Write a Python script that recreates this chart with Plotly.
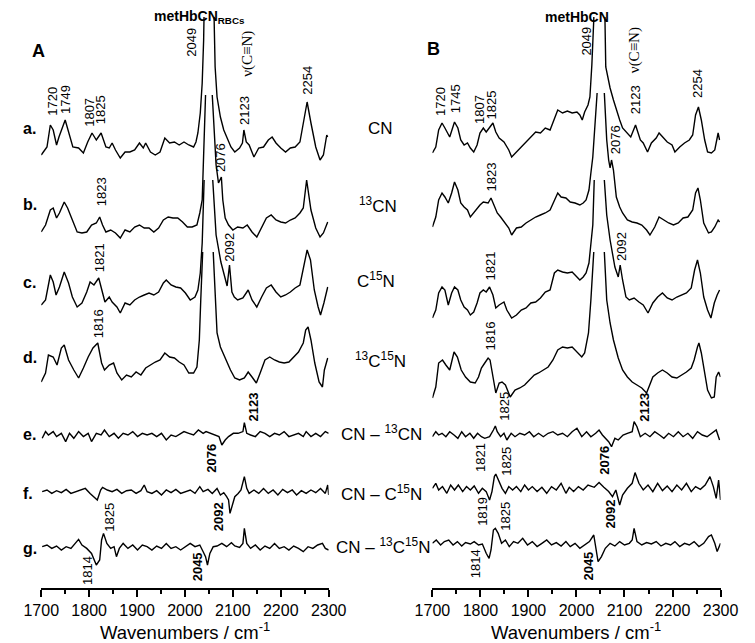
import plotly.graph_objects as go

# The page body adds an 8 px margin; the figure is sized/shifted so the screenshot lines up.
SH = 8
W, H = 755 - SH, 643 - SH
PLOT_TOP, PLOT_BOT = 17, 588          # screen px of plot area
MT, MB = PLOT_TOP - SH, 643 - PLOT_BOT
PH = PLOT_BOT - PLOT_TOP

# ---------------- Panel A : metHbCN (RBCs) ----------------
A_a_wn = [1700,1712,1719,1725,1732,1737,1750,1758,1766,1778,1788,1797,1806,1815,1825,1835,1842,1848,1855,1865,1875,1885,1895,1905,1913,1918,1928,1938,1948,1958,1968,1978,1988,1998,2008,2018,2023,2027,2032,2036,2039,2049,2063,2067,2074,2081,2087,2096,2104,2114,2120,2123,2128,2134,2144,2154,2164,2174,2182,2190,2200,2210,2220,2230,2240,2249,2255,2263,2273,2282,2289,2296,2298]
A_a_int = [-5,3,25,20,5,13,30,17,3,2,-3,8,17,10,17,3,2,7,0,-8,-2,-2,0,7,2,7,-2,-5,-2,12,7,8,5,8,5,3,8,17,37,67,110,400,83,53,33,20,13,3,-2,2,7,20,8,5,-7,2,3,10,13,7,2,-2,2,3,8,30,48,27,3,-10,-5,15,13]

A_b_wn = [1700,1709,1719,1725,1732,1738,1748,1755,1765,1775,1785,1795,1805,1815,1822,1828,1835,1845,1855,1865,1875,1885,1895,1905,1915,1925,1935,1945,1955,1965,1975,1985,1995,2005,2015,2025,2031,2036,2043,2050,2057,2065,2070,2076,2079,2084,2091,2100,2110,2121,2130,2140,2150,2160,2170,2180,2190,2200,2210,2220,2230,2240,2247,2254,2263,2273,2282,2289,2298]
A_b_int = [-7,0,15,17,7,12,23,17,5,-7,-8,-7,0,2,8,0,-7,-5,-8,-13,-5,-7,-2,0,-3,-3,-7,-3,5,8,7,7,3,-2,-2,0,12,25,130,None,130,60,42,48,25,7,0,-5,-2,-3,0,-7,-12,-2,7,10,5,3,2,5,7,12,17,45,15,-3,-12,-8,3]

A_c_wn = [1700,1709,1719,1725,1731,1738,1748,1757,1765,1775,1785,1795,1802,1810,1820,1826,1833,1842,1848,1858,1865,1875,1885,1895,1905,1915,1925,1935,1945,1955,1961,1971,1981,1991,2001,2011,2021,2027,2032,2036,2040,2049,2058,2065,2075,2084,2088,2093,2098,2103,2110,2121,2132,2140,2150,2160,2170,2180,2190,2200,2210,2220,2230,2240,2248,2255,2262,2270,2278,2283,2290,2298]
A_c_int = [-10,-5,20,13,0,8,23,12,-2,-12,-8,3,13,10,17,7,-7,-2,-7,-12,-18,-8,-10,-5,-2,0,2,0,3,12,15,10,8,7,2,-5,-2,5,22,52,115,None,115,60,33,15,9,30,3,-2,-5,-3,5,-5,-12,-2,7,10,3,-2,0,3,7,10,28,45,35,5,-12,-20,-8,8]

A_d_wn = [1700,1709,1715,1725,1733,1742,1748,1757,1768,1778,1788,1798,1808,1818,1826,1832,1842,1851,1858,1868,1878,1888,1898,1908,1918,1928,1938,1948,1958,1968,1978,1988,1998,2008,2018,2025,2030,2033,2037,2048,2059,2067,2074,2085,2095,2104,2114,2124,2132,2140,2149,2157,2167,2177,2187,2197,2207,2217,2227,2237,2247,2252,2257,2263,2271,2280,2287,2291,2298]
A_d_int = [-12,-3,15,13,5,22,25,10,0,-8,2,13,22,27,7,0,5,7,-3,-10,-5,-7,-2,-5,2,5,8,10,17,13,12,8,5,-3,-3,3,30,70,118,None,118,37,23,10,0,-8,-10,-8,-2,-7,-13,-3,10,13,10,8,7,8,13,18,27,40,43,30,7,-12,-17,0,12]

A_e_wn = [1702,1709,1715,1725,1732,1742,1751,1759,1768,1778,1788,1798,1805,1815,1825,1832,1842,1852,1861,1871,1881,1891,1901,1911,1921,1931,1941,1951,1961,1971,1981,1991,1998,2008,2018,2028,2038,2044,2054,2064,2071,2077,2084,2091,2101,2111,2121,2124,2129,2137,2147,2157,2167,2177,2187,2197,2207,2217,2227,2237,2247,2253,2263,2273,2283,2293,2300]
A_e_int = [-5,1.7,-1.7,1.7,-3.3,0,-8.3,0,-5,1.7,-3.3,0,-8.3,0,-1.7,3.3,-3.3,0,-5,0,-1.7,1.7,-3.3,0,-1.7,0,-3.3,0,-6.7,-1.7,-3.3,0,1.7,0,-1.7,3.3,0,1.7,0,-1.7,-3.3,-11.7,-6.7,-3.3,0,0,1.7,10.7,0,-1.7,-3.3,1.7,0,-3.3,0,-1.7,1.7,-3.3,-1.7,0,-3.3,1.7,-3.3,0,-3.3,1.7,0]

A_f_wn = [1702,1712,1722,1732,1742,1752,1762,1772,1782,1792,1802,1812,1817,1824,1828,1838,1848,1858,1868,1878,1888,1898,1908,1915,1921,1931,1941,1951,1961,1971,1981,1991,2001,2011,2021,2031,2038,2048,2057,2067,2074,2081,2087,2091,2094,2099,2104,2111,2117,2124,2129,2134,2144,2154,2164,2174,2184,2194,2204,2214,2224,2233,2243,2253,2263,2273,2283,2293,2298,2300]
A_f_int = [0,1.7,-1.7,1,-1,2.3,-1.7,0,1.7,3.3,-1.7,-6.7,-8.3,1.7,4.3,1.7,0,2.3,-1.7,1,1.7,-1.7,1,6.7,0,-1.7,1,-3.3,1.7,-1,2.3,-1.7,0,1.7,-1.7,5,0,2.3,-1.7,3.3,-3.3,-1,-5,-8.3,-21.7,-13.3,-5,-1.7,1.7,15,3.3,-1.7,1.7,-1.7,3.3,-1.7,1.7,-3.3,2.3,-1,1.7,-3.3,1,-1.7,1.7,-1,3.3,-1.7,6.7,-3.3]

A_g_wn = [1702,1712,1722,1732,1742,1752,1762,1772,1778,1785,1795,1805,1815,1822,1826,1830,1837,1845,1852,1857,1863,1871,1881,1891,1901,1911,1921,1931,1941,1951,1961,1971,1981,1991,2001,2011,2021,2031,2038,2043,2047,2052,2059,2067,2077,2087,2097,2104,2114,2121,2124,2129,2137,2147,2157,2167,2177,2187,2197,2207,2217,2227,2237,2247,2257,2267,2277,2287,2293,2300]
A_g_int = [0,1.7,-1.7,0.7,-3.3,0,-1.7,3.3,7.3,1.7,-1.7,-6.7,-18.3,-13.3,6.7,13.3,3.3,-1.7,0,-10,-1.7,3.3,-1.7,1.7,-3.3,1.7,0,-3.3,0.7,-1.7,3.3,-1.7,0,-3.3,0,3.3,0,1.7,-5,-10,-18.3,-6.7,0,0.7,3.3,0,4,0.7,-0.7,3.3,18.3,3.3,-1.7,1.7,-3.3,0.7,-1.7,3.3,-1.7,0,-3.3,0.7,-1.7,-5,0,-1.7,1.7,3.3,-1.7,-3.3]

# ---------------- Panel B : metHbCN ----------------
B_a_wn = [1700,1707,1713,1720,1726,1736,1746,1753,1759,1766,1773,1779,1786,1793,1799,1806,1812,1819,1826,1832,1839,1849,1859,1865,1875,1885,1895,1905,1915,1925,1935,1945,1954,1961,1971,1981,1991,2001,2007,2012,2017,2024,2028,2032,2036,2049,2061,2070,2077,2083,2090,2096,2106,2113,2123,2128,2133,2139,2148,2156,2166,2172,2179,2189,2199,2205,2215,2225,2235,2242,2248,2254,2260,2267,2273,2281,2288,2295,2298]
B_a_int = [-3,3,20,27,22,13,28,22,10,5,7,2,-2,5,17,22,18,22,27,18,12,8,0,-7,-2,2,7,12,18,17,22,20,32,40,37,39,37,38,35,30,38,45,53,85,130,420,83,62,50,40,30,22,17,13,25,17,10,7,-2,7,12,17,13,8,5,-2,3,7,10,15,35,43,30,10,-2,-3,0,17,10]

B_b_wn = [1700,1707,1713,1720,1726,1733,1740,1746,1753,1759,1766,1773,1779,1786,1793,1799,1806,1816,1822,1829,1835,1842,1852,1859,1865,1875,1885,1895,1905,1915,1925,1935,1945,1954,1961,1968,1978,1987,1997,2007,2014,2020,2026,2030,2034,2043,2050,2058,2063,2067,2070,2073,2077,2083,2090,2096,2106,2116,2126,2136,2146,2153,2163,2172,2182,2192,2202,2212,2222,2232,2242,2248,2253,2258,2265,2275,2281,2288,2295,2298]
B_b_int = [-2,8,25,32,28,22,32,43,35,22,18,15,8,12,17,20,23,22,27,18,12,8,2,-3,-10,-3,-2,2,5,8,10,12,15,25,32,28,27,23,22,20,22,25,35,52,68,132,None,132,85,65,57,65,55,28,18,12,5,3,2,0,-5,-10,-2,8,5,2,0,2,7,8,15,32,37,25,2,-8,-7,-2,5,3]

B_c_wn = [1700,1707,1713,1720,1726,1733,1740,1746,1753,1759,1766,1773,1779,1786,1793,1799,1806,1812,1819,1826,1832,1839,1849,1855,1865,1875,1885,1895,1905,1915,1925,1935,1945,1954,1961,1971,1981,1991,2001,2007,2014,2020,2026,2030,2034,2037,2048,2058,2063,2070,2076,2080,2087,2091,2096,2103,2110,2120,2130,2139,2149,2159,2169,2179,2189,2199,2209,2219,2229,2239,2246,2252,2258,2265,2273,2280,2287,2293,2298]
B_c_int = [-13,-5,12,18,15,0,12,18,15,5,-2,-5,-10,-7,2,12,15,13,18,10,-3,0,3,-5,-13,-10,-5,-3,2,3,7,13,15,32,35,33,32,33,28,25,28,32,42,62,80,125,None,125,90,65,47,38,28,40,25,8,5,7,3,0,-8,2,8,12,7,5,8,10,12,17,35,45,32,8,-5,-13,2,10,15]

B_d_wn = [1700,1707,1713,1721,1728,1736,1745,1752,1760,1769,1779,1789,1796,1802,1809,1816,1820,1827,1832,1839,1845,1852,1862,1872,1882,1892,1902,1912,1921,1931,1941,1951,1961,1971,1981,1991,2001,2011,2017,2025,2030,2034,2036,2048,2058,2063,2070,2077,2087,2096,2106,2116,2126,2136,2146,2151,2159,2169,2179,2189,2199,2209,2219,2229,2239,2245,2252,2255,2260,2267,2273,2281,2287,2291,2296,2300]
B_d_int = [-23,-12,12,15,10,5,23,18,5,-2,-7,-8,-2,7,12,17,15,-5,-18,-8,-7,-10,-22,-15,-13,-10,-5,0,2,5,8,15,25,28,27,28,23,18,22,42,75,108,123,None,123,75,52,35,17,5,-2,-7,-10,-13,-18,-12,-2,2,5,2,-2,-3,0,3,7,15,28,32,22,2,-15,-23,-22,-2,3,-2]

B_e_wn = [1700,1707,1713,1720,1728,1736,1745,1753,1761,1769,1778,1786,1794,1802,1809,1819,1827,1831,1835,1842,1849,1855,1864,1872,1882,1892,1902,1911,1921,1931,1941,1951,1961,1971,1981,1991,2001,2011,2021,2030,2040,2047,2054,2060,2067,2073,2080,2087,2097,2106,2116,2120,2126,2133,2143,2153,2163,2173,2182,2192,2202,2212,2222,2232,2242,2252,2262,2272,2281,2291,2298]
B_e_int = [-1.7,3.3,0,1.7,-1.7,3.3,0,-3.3,3.3,-1.7,1.7,-3.3,1.7,-1.7,-3.3,-1.7,5,9,3.3,-1.7,1.7,-5,1.7,-1.7,1.7,0,3.3,-1.7,1.7,-1.7,1.7,3.3,0,1.7,-1.7,3.3,6.7,-1.7,3.3,-1.7,1.7,5,0,-3.3,-6.7,-11.7,-3.3,-5,0,1.7,3.3,13.3,8.3,-1.7,1.7,-1.7,3.3,0,-3.3,1.7,-1.7,3.3,-1.7,1.7,-3.3,3.3,0,-1.7,1.7,5,-5]

B_f_wn = [1700,1707,1713,1721,1730,1738,1746,1754,1763,1771,1779,1787,1796,1804,1812,1819,1824,1829,1832,1839,1845,1852,1859,1867,1875,1884,1892,1900,1908,1918,1928,1938,1948,1958,1968,1978,1985,1994,2004,2014,2024,2037,2047,2057,2067,2075,2082,2090,2096,2106,2116,2122,2130,2139,2149,2159,2169,2179,2189,2199,2209,2219,2229,2239,2248,2258,2268,2278,2285,2291,2296,2300]
B_f_int = [0,5,-1.7,1.7,-5,3.3,-1.7,3.3,-3.3,1.7,-1.7,2.3,-5,0,-3.3,-11.7,-3.3,11.7,14.3,6.7,0,-5,1.7,-1.7,1.7,-3.3,3.3,-1.7,1.7,-3.3,1,-5,1.7,-1.7,5,-5,1,-3.3,1.7,-1.7,3.3,1,5.7,1,-3.3,-8.3,-1.7,-16.7,-6.7,0,5,15.7,5,-1.7,3.3,-3.3,5,-2.3,2.3,-3.3,3.3,-1.7,5,-3.3,1.7,-1,3.3,11.7,1.7,-10,8.3,-11.7]

B_g_wn = [1700,1708,1717,1725,1734,1743,1752,1761,1769,1779,1787,1796,1804,1812,1818,1822,1827,1831,1837,1844,1852,1860,1869,1878,1888,1898,1908,1918,1928,1938,1948,1958,1968,1978,1987,1997,2007,2017,2027,2036,2040,2045,2052,2060,2070,2080,2090,2100,2110,2116,2120,2126,2136,2146,2156,2166,2176,2186,2196,2205,2215,2225,2235,2245,2255,2265,2275,2281,2288,2293,2300]
B_g_int = [0,3.3,-1.7,1.7,3.3,-1.7,1.7,-2.7,0.7,-0.7,1.7,-1.7,-0.7,-10,-15,-6.7,13.3,15,10,0,3.3,-3.3,1.7,0,5,-1.7,1.7,-3.3,0,3.3,-1.7,0.7,-2.7,1.7,-3.3,0,-5,-1.7,1.7,8.3,-3.3,-18.3,-13.3,-5,0,-2.7,1.7,-1.7,0,3.3,15,1.7,-1.7,0.7,-0.7,1.7,-2.7,0,-1.7,1.7,-3.3,0,-1.7,1.7,-3.3,0,6.7,8.3,0,-8.3,0]

PANEL_A = [(A_a_wn, A_a_int), (A_b_wn, A_b_int), (A_c_wn, A_c_int), (A_d_wn, A_d_int),
           (A_e_wn, A_e_int), (A_f_wn, A_f_int), (A_g_wn, A_g_int)]
PANEL_B = [(B_a_wn, B_a_int), (B_b_wn, B_b_int), (B_c_wn, B_c_int), (B_d_wn, B_d_int),
           (B_e_wn, B_e_int), (B_f_wn, B_f_int), (B_g_wn, B_g_int)]

# vertical stacking offsets (layout, in axis units)
OFFS_A = [438, 363, 293, 218, 154.7, 96.3, 41.3]
OFFS_B = [438, 363, 283, 213, 153, 99.7, 44.7]

fig = go.Figure()
for panel, offs, xa, ya in [(PANEL_A, OFFS_A, "x", "y"), (PANEL_B, OFFS_B, "x2", "y2")]:
    for (wn, it), off in zip(panel, offs):
        yy = [None if v is None else v + off for v in it]
        fig.add_trace(go.Scatter(x=wn, y=yy, mode="lines", xaxis=xa, yaxis=ya,
                                 line=dict(color="black", width=1.4),
                                 connectgaps=False, showlegend=False, hoverinfo="skip"))

AX = dict(range=[1700, 2300], showgrid=False, zeroline=False, showline=True,
          linecolor="black", linewidth=1.5, ticks="outside", ticklen=7, tickwidth=1.5,
          tickcolor="black", tickvals=[1700, 1800, 1900, 2000, 2100, 2200, 2300],
          tickfont=dict(family="Arial, Liberation Sans", size=16, color="black"),
          minor=dict(tickvals=[1750, 1850, 1950, 2050, 2150, 2250], ticks="outside",
                     ticklen=4, tickwidth=1.5, tickcolor="black"),
          fixedrange=True)
AY = dict(range=[0, PH], visible=False, showgrid=False, zeroline=False, fixedrange=True)

fig.update_layout(
    width=W, height=H, margin=dict(l=0, r=0, t=MT, b=MB, pad=0),
    paper_bgcolor="white", plot_bgcolor="white",
    xaxis=dict(domain=[(24 - SH) / W, (326 - SH) / W], anchor="y", **AX),
    xaxis2=dict(domain=[(435 - SH) / W, (737.7 - SH) / W], anchor="y2", **AX),
    yaxis=dict(domain=[0, 1], anchor="x", **AY),
    yaxis2=dict(domain=[0, 1], anchor="x2", **AY),
)

SANS = "Arial, Liberation Sans"
SERIF = "Times New Roman, Liberation Serif"


def P(px, py):
    """screen px -> paper coords"""
    return (px - SH) / W, (PLOT_BOT - py) / PH


anns = []


def add(text, px, py, size=13, angle=0, family=SANS, xanchor="center"):
    x, y = P(px, py)
    anns.append(dict(text=text, x=x, y=y, xref="paper", yref="paper", showarrow=False,
                     textangle=angle, xanchor=xanchor, yanchor="middle",
                     font=dict(family=family, size=size, color="black")))


# titles / panel letters
add("<b>metHbCN<sub>RBCs</sub></b>", 190, 17, 14)
add("<b>metHbCN</b>", 587, 17, 14)
add("<b>A</b>", 21, 51, 18)
add("<b>B</b>", 436, 49, 18)

# rotated peak labels (normal)
for t, x, y in [("2049", 181, 42), ("2123", 238, 110), ("2254", 303, 80), ("1720", 35, 101),
                ("1749", 50, 99), ("1807", 74, 112), ("1825", 87, 110), ("2076", 213, 158),
                ("1823", 87, 192), ("1821", 85, 258), ("2092", 221, 247), ("1816", 85, 324),
                ("1825", 95, 517), ("1814", 72, 570),
                ("2049", 597, 41), ("2123", 648, 100), ("2254", 713, 84), ("1720", 443, 102),
                ("1745", 460, 99), ("1807", 485, 110), ("1825", 498, 105), ("2076", 627, 140),
                ("1823", 497, 177), ("2092", 633, 246), ("1821", 495, 266), ("1816", 495, 336),
                ("1825", 510, 406), ("1821", 485, 458), ("1825", 512, 461), ("1819", 488, 511),
                ("1825", 512, 516), ("1814", 480, 564)]:
    add(t, x, y, 13, -90)
# rotated bold labels
for t, x, y in [("2123", 246, 407), ("2076", 202, 458), ("2092", 210, 517), ("2045", 188, 567),
                ("2123", 657, 407), ("2076", 615, 460), ("2092", 622, 514), ("2045", 598, 566)]:
    add("<b>%s</b>" % t, x, y, 13, -90)
# nu(C≡N)
add("ν(C≡N)", 240, 54, 15, -90, SERIF)
add("ν(C≡N)", 648, 50, 15, -90, SERIF)

# row letters
for t, y in [("a.", 128), ("b.", 205), ("c.", 282), ("d.", 357), ("e.", 434), ("f.", 493), ("g.", 548)]:
    add("<b>%s</b>" % t, 3, y, 16, xanchor="left")

# sample labels
for t, x, y in [("CN", 380, 128), ("<sup>13</sup>CN", 378, 205), ("C<sup>15</sup>N", 376, 280),
                ("<sup>13</sup>C<sup>15</sup>N", 380, 360), ("CN – <sup>13</sup>CN", 381, 433),
                ("CN – C<sup>15</sup>N", 381, 493), ("CN – <sup>13</sup>C<sup>15</sup>N", 384, 546)]:
    add(t, x, y, 17)

# axis titles
add("Wavenumbers / cm<sup>-1</sup>", 175, 631, 18.5)
add("Wavenumbers / cm<sup>-1</sup>", 586, 631, 18.5)

fig.update_layout(annotations=anns)
fig.write_html("out.html")
